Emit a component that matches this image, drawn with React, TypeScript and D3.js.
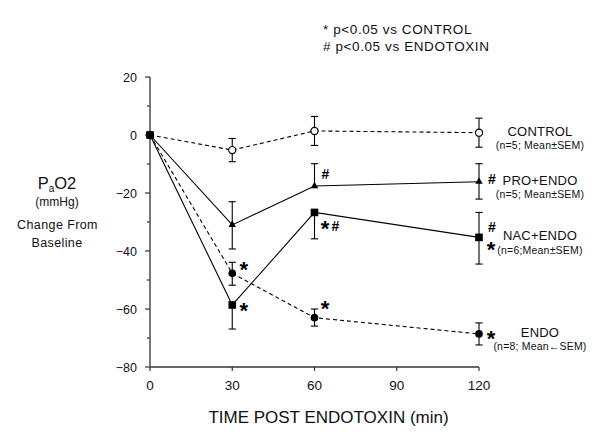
import React from 'react';
import * as d3 from 'd3';

// ---- data ----
const times = [0, 30, 60, 120];
const xTicks = [0, 30, 60, 90, 120];
const yTicks = [20, 0, -20, -40, -60, -80];
const yMinorTicks = [10, -10, -30, -50, -70];

const controlMean = [0, -5.2, 1.4, 0.8];
const controlErrUp = [0, 4, 5, 5];
const controlErrDown = [0, 4, 5, 5];

const proMean = [0, -31, -17.6, -16.1];
const proErrUp = [0, 8, 7.7, 6.2];
const proErrDown = [0, 8.3, 0, 6];

const nacMean = [0, -58.6, -26.7, -35.3];
const nacErrUp = [0, 0, 0, 8.6];
const nacErrDown = [0, 8.3, 9.1, 9.2];

const endoMean = [0, -47.7, -63, -68.6];
const endoErrUp = [0, 3.8, 3, 3.8];
const endoErrDown = [0, 4.1, 2.9, 3.8];

const seriesNames = ['CONTROL', 'ENDO', 'PRO+ENDO', 'NAC+ENDO'];
const seriesSubs = ['(n=5; Mean±SEM)', '(n=8; Mean←SEM)', '(n=5; Mean±SEM)', '(n=6;Mean±SEM)'];

const FONT = '"Liberation Sans", Arial, Helvetica, sans-serif';

function Star({ cx, cy, fs = 22 }: { cx: number; cy: number; fs?: number }) {
  return (
    <text x={cx} y={cy + 0.56 * fs} textAnchor="middle" fontSize={fs} fontWeight="bold" fontFamily={FONT}>
      *
    </text>
  );
}

function Hash({ x0, base, fs = 14 }: { x0: number; base: number; fs?: number }) {
  return (
    <text x={x0} y={base} fontSize={fs} fontWeight="bold" fontFamily={FONT}>
      #
    </text>
  );
}

export default function App() {
  const W = 601, H = 442;
  const x = d3.scaleLinear().domain([0, 120]).range([150, 479]);
  const y = d3.scaleLinear().domain([-80, 20]).range([367, 77]);

  const series = [
    { mean: controlMean, up: controlErrUp, down: controlErrDown, dashed: true, marker: 'open' },
    { mean: endoMean, up: endoErrUp, down: endoErrDown, dashed: true, marker: 'circle' },
    { mean: proMean, up: proErrUp, down: proErrDown, dashed: false, marker: 'triangle' },
    { mean: nacMean, up: nacErrUp, down: nacErrDown, dashed: false, marker: 'square' },
  ];

  const line = d3.line<number>().x((_, i) => x(times[i])).y((d) => y(d));
  const tri = d3.symbol().type(d3.symbolTriangle).size(24)();
  const sq = d3.symbol().type(d3.symbolSquare).size(58)();
  const circ = d3.symbol().type(d3.symbolCircle).size(46)();
  const openC = d3.symbol().type(d3.symbolCircle).size(40)();
  const cap = 3.6;

  const last = times.length - 1;
  const xEnd = x(times[last]);
  const xMid = x(60);
  const x30 = x(30);

  return (
    <svg width={W} height={H} style={{ position: 'absolute', left: 0, top: 0, background: '#fff' }} fontFamily={FONT}>
      <rect width={W} height={H} fill="#fff" />
      {/* significance key */}
      <text x={323} y={34} fontSize={13.5} letterSpacing={0.6} fill="#111">* p&lt;0.05 vs CONTROL</text>
      <text x={323} y={51} fontSize={13.5} letterSpacing={0.6} fill="#111"># p&lt;0.05 vs ENDOTOXIN</text>

      {/* y axis */}
      <line x1={x(0)} x2={x(0)} y1={y(20)} y2={y(-80)} stroke="#333" strokeWidth={1.3} />
      {yTicks.map((t) => (
        <g key={'yt' + t}>
          <line x1={x(0) - 5} x2={x(0)} y1={y(t)} y2={y(t)} stroke="#333" strokeWidth={1.2} />
          <text x={x(0) - 13} y={y(t)} dy="0.36em" textAnchor="end" fontSize={12.5} fill="#111">
            {d3.format('')(t)}
          </text>
        </g>
      ))}
      {yMinorTicks.map((t) => (
        <line key={'ym' + t} x1={x(0) - 3} x2={x(0)} y1={y(t)} y2={y(t)} stroke="#333" strokeWidth={1.2} />
      ))}

      {/* x axis */}
      <line x1={x(0)} x2={x(120)} y1={y(-80)} y2={y(-80)} stroke="#333" strokeWidth={1.3} />
      {xTicks.map((t) => (
        <g key={'xt' + t}>
          <line x1={x(t)} x2={x(t)} y1={y(-80)} y2={y(-80) + 4} stroke="#333" strokeWidth={1.2} />
          <text x={x(t)} y={390} textAnchor="middle" fontSize={13.5} fill="#111">{t}</text>
        </g>
      ))}
      <text x={328.5} y={422.5} textAnchor="middle" fontSize={17} fill="#111">TIME POST ENDOTOXIN (min)</text>

      {/* y label */}
      <text x={57} y={188.5} textAnchor="middle" fontSize={16.5} fill="#111">
        P<tspan fontSize={10} dy={3}>a</tspan><tspan dy={-3}>O2</tspan>
      </text>
      <text x={57} y={205.5} textAnchor="middle" fontSize={12} fill="#111">(mmHg)</text>
      <text x={57.5} y={229.3} textAnchor="middle" fontSize={12.5} letterSpacing={0.4} fill="#111">Change From</text>
      <text x={57} y={246.7} textAnchor="middle" fontSize={12.5} letterSpacing={0.4} fill="#111">Baseline</text>

      {/* lines */}
      {series.map((s, si) => (
        <path key={'l' + si} d={line(s.mean) || ''} fill="none" stroke="#000" strokeWidth={1.1}
          strokeDasharray={s.dashed ? '4,3' : undefined} />
      ))}
      {/* error bars */}
      {series.map((s, si) =>
        s.mean.map((m, i) => {
          const px = x(times[i]);
          const els: any[] = [];
          if (s.up[i] > 0) {
            els.push(<line key="u" x1={px} x2={px} y1={y(m)} y2={y(m + s.up[i])} stroke="#000" strokeWidth={1.1} />);
            els.push(<line key="uc" x1={px - cap} x2={px + cap} y1={y(m + s.up[i])} y2={y(m + s.up[i])} stroke="#000" strokeWidth={1.1} />);
          }
          if (s.down[i] > 0) {
            els.push(<line key="d" x1={px} x2={px} y1={y(m)} y2={y(m - s.down[i])} stroke="#000" strokeWidth={1.1} />);
            els.push(<line key="dc" x1={px - cap} x2={px + cap} y1={y(m - s.down[i])} y2={y(m - s.down[i])} stroke="#000" strokeWidth={1.1} />);
          }
          return <g key={'e' + si + '-' + i}>{els}</g>;
        })
      )}
      {/* markers */}
      {series.map((s, si) =>
        s.mean.map((m, i) => {
          const tr = `translate(${x(times[i])},${y(m)})`;
          if (s.marker === 'open') return <path key={'m' + si + i} d={openC || ''} transform={tr} fill="#fff" stroke="#000" strokeWidth={1.2} />;
          if (s.marker === 'circle') return <path key={'m' + si + i} d={circ || ''} transform={tr} fill="#000" />;
          if (s.marker === 'triangle') return <path key={'m' + si + i} d={tri || ''} transform={tr} fill="#000" />;
          return <path key={'m' + si + i} d={sq || ''} transform={tr} fill="#000" />;
        })
      )}

      {/* significance marks */}
      <Star cx={x30 + 11.5} cy={y(endoMean[1]) - 9} />
      <Star cx={x30 + 11.5} cy={y(nacMean[1]) + 1} />
      <Hash x0={xMid + 7} base={y(proMean[2]) - 7} />
      <Star cx={xMid + 10.5} cy={y(nacMean[2]) + 11} />
      <Hash x0={xMid + 17} base={y(nacMean[2]) + 18.5} />
      <Star cx={xMid + 10.5} cy={y(endoMean[2]) - 14.5} />
      <Hash x0={xEnd + 9} base={y(proMean[last]) + 2.5} />
      <Hash x0={xEnd + 9} base={y(nacMean[last]) - 5.7} />
      <Star cx={xEnd + 12} cy={y(nacMean[last]) + 7.6} />
      <Star cx={xEnd + 12} cy={y(endoMean[last]) - 0.5} />

      {/* series labels */}
      {[controlMean, endoMean, proMean, nacMean].map((arr, si) => (
        <g key={'lab' + si}>
          <text x={xEnd + 61} y={y(arr[last]) + 3} textAnchor="middle" fontSize={13} letterSpacing={0.2} fill="#111">{seriesNames[si]}</text>
          <text x={xEnd + 61} y={y(arr[last]) + 16.5} textAnchor="middle" fontSize={10.5} letterSpacing={0.2} fill="#111">{seriesSubs[si]}</text>
        </g>
      ))}
    </svg>
  );
}
